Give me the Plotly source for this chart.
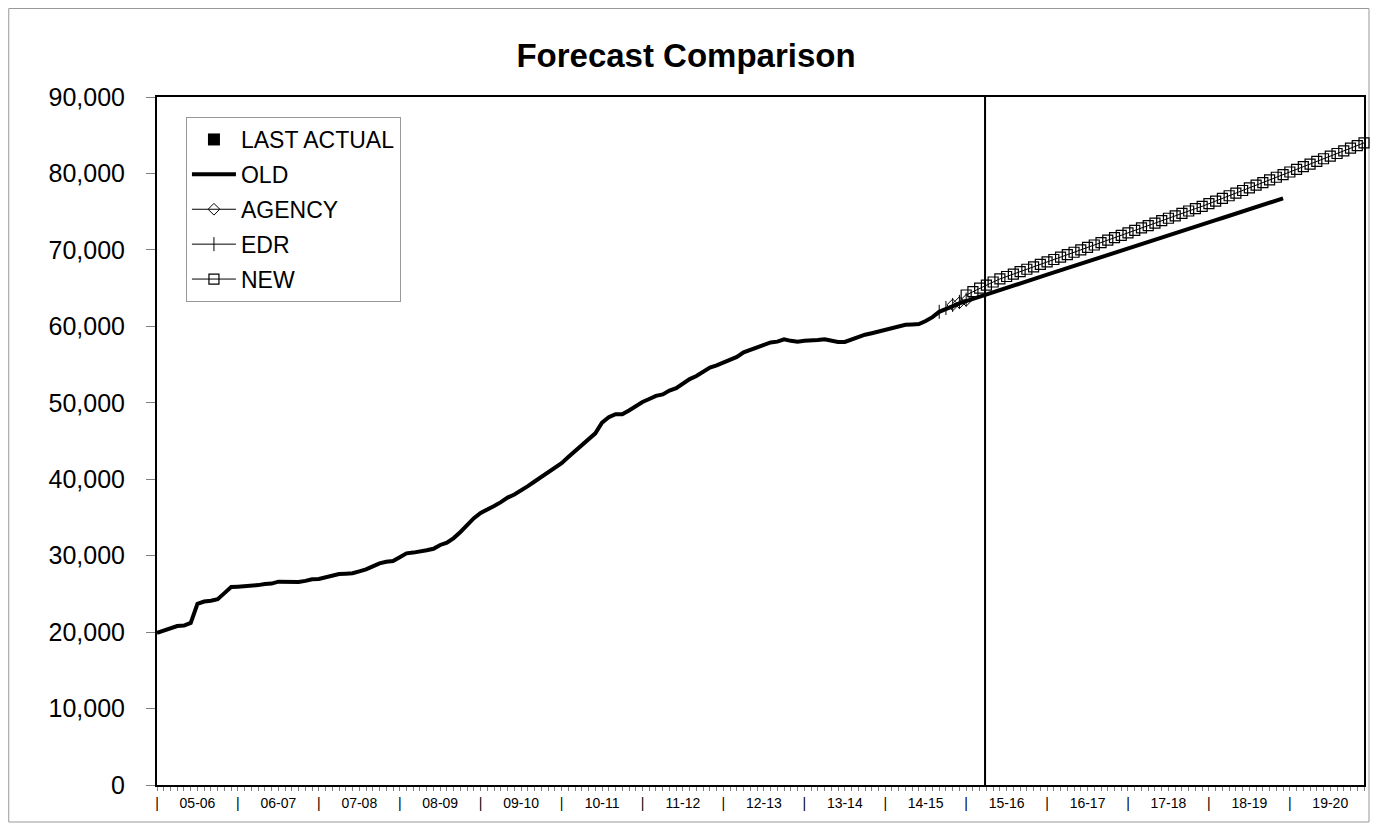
import plotly.graph_objects as go

# ---------------- data ----------------
FISCAL_YEARS = ["05-06", "06-07", "07-08", "08-09", "09-10", "10-11", "11-12", "12-13",
                "13-14", "14-15", "15-16", "16-17", "17-18", "18-19", "19-20"]
N_MONTHS = 180  # Jul 2005 .. Jun 2020

# OLD series (actuals + old forecast), month index 0..167
OLD_VALUES = [
    19900, 20200, 20450, 20800, 20850, 21200, 23700, 24000, 24100, 24300, 25100, 25900,
    25950, 26000, 26100, 26150, 26300, 26350, 26600, 26600, 26550, 26550, 26700, 26900,
    26950, 27200, 27400, 27600, 27650, 27700, 27950, 28200, 28600, 29000, 29200, 29300,
    29800, 30300, 30400, 30500, 30700, 30900, 31400, 31700, 32300, 33100, 34000, 34900,
    35600, 36000, 36500, 37000, 37600, 38000, 38500, 39100, 39700, 40300, 40900, 41500,
    42100, 42900, 43700, 44500, 45300, 46000, 47400, 48100, 48500, 48500, 49000, 49600,
    50100, 50500, 50900, 51100, 51600, 51900, 52500, 53100, 53500, 54000, 54600, 54900,
    55300, 55700, 56000, 56600, 56900, 57300, 57600, 57900, 58000, 58300, 58100, 58000,
    58100, 58100, 58200, 58300, 58100, 57950, 57950, 58300, 58600, 58900, 59100, 59300,
    59500, 59700, 60000, 60200, 60250, 60300, 60700, 61200, 61900, 62300, 62700, 63000,
    63300, 63600, 63900, 64200, 64480, 64770, 65050, 65340, 65620, 65910, 66190, 66480,
    66760, 67050, 67330, 67620, 67900, 68190, 68470, 68760, 69040, 69330, 69610, 69900,
    70180, 70470, 70750, 71040, 71320, 71610, 71890, 72180, 72460, 72750, 73030, 73320,
    73600, 73890, 74170, 74460, 74740, 75030, 75310, 75600, 75880, 76170, 76450, 76740,
]

# NEW forecast, month index 120..179
NEW_START = 120
NEW_VALUES = [
    64100, 64550, 65000, 65400, 65800, 66200, 66520, 66830, 67150, 67470, 67790, 68100,
    68420, 68740, 69060, 69370, 69690, 70010, 70330, 70640, 70960, 71280, 71600, 71910,
    72230, 72550, 72870, 73180, 73500, 73820, 74140, 74450, 74770, 75090, 75400, 75700,
    76050, 76390, 76740, 77080, 77430, 77770, 78120, 78460, 78810, 79150, 79500, 79840,
    80190, 80530, 80880, 81230, 81570, 81920, 82260, 82610, 82950, 83300, 83650, 84000,
]

# EDR and AGENCY (short, near the last actual)
EDR_MONTHS = [116, 117, 118, 119, 120]
EDR_VALUES = [61900, 62400, 62800, 63200, 63500]
AGENCY_MONTHS = [118, 119, 120]
AGENCY_VALUES = [62800, 63100, 63400]

# LAST ACTUAL marker (column reaching the top of the axis)
LAST_ACTUAL_MONTH = [122.8]
LAST_ACTUAL_VALUE = [90000]

# ---------------- figure ----------------
FONT = "Liberation Sans, Arial, sans-serif"
FIG_W, FIG_H = 1364, 815          # page body adds an 8px margin
ML, MR, MT, MB = 149, 6, 89, 38   # plot area: page x 157..1366, y 97..785
PW = FIG_W - ML - MR
PH = FIG_H - MT - MB

old_x = list(range(len(OLD_VALUES)))
new_x = list(range(NEW_START, NEW_START + len(NEW_VALUES)))

tickvals = list(range(N_MONTHS))
ticktext = []
for m in tickvals:
    if m % 12 == 0:
        ticktext.append("|")
    elif m % 12 == 6:
        ticktext.append(FISCAL_YEARS[m // 12])
    else:
        ticktext.append("")

fig = go.Figure()

fig.add_trace(go.Bar(
    x=LAST_ACTUAL_MONTH, y=LAST_ACTUAL_VALUE, width=0.3, name="LAST ACTUAL",
    marker=dict(color="black", line=dict(width=0)), legendgroup="a",
))
fig.add_trace(go.Scatter(
    x=old_x, y=OLD_VALUES, mode="lines", name="OLD",
    line=dict(color="black", width=4), legendgroup="b",
))
fig.add_trace(go.Scatter(
    x=AGENCY_MONTHS, y=AGENCY_VALUES, mode="lines+markers", name="AGENCY",
    line=dict(color="black", width=1),
    marker=dict(symbol="diamond-open", size=9, color="black", line=dict(width=1)),
    legendgroup="c",
))
fig.add_trace(go.Scatter(
    x=EDR_MONTHS, y=EDR_VALUES, mode="lines+markers", name="EDR",
    line=dict(color="black", width=1),
    marker=dict(symbol="line-ns-open", size=10, color="black", line=dict(width=1)),
    legendgroup="d",
))
fig.add_trace(go.Scatter(
    x=new_x, y=NEW_VALUES, mode="lines+markers", name="NEW",
    line=dict(color="black", width=1), cliponaxis=False,
    marker=dict(symbol="square-open", size=10, color="black", line=dict(width=1.2)),
    legendgroup="e",
))

fig.update_layout(
    width=FIG_W, height=FIG_H,
    margin=dict(l=ML, r=MR, t=MT, b=MB),
    paper_bgcolor="white", plot_bgcolor="white",
    font=dict(family=FONT, color="black"),
    title=dict(text="<b>Forecast Comparison</b>", x=678 / FIG_W, xref="container",
               xanchor="center",
               y=1 - 47 / FIG_H, yanchor="middle", yref="container",
               font=dict(size=33, family=FONT, color="black")),
    barmode="overlay",
    showlegend=True,
    legend=dict(
        x=(186 - 157) / PW, y=(785 - 117) / PH, xanchor="left", yanchor="top",
        bgcolor="white", bordercolor="#999999", borderwidth=1,
        font=dict(size=23, family=FONT, color="black"),
        traceorder="grouped", tracegroupgap=2,
        itemwidth=44,
    ),
    xaxis=dict(
        range=[0, N_MONTHS - 1],
        tickmode="array", tickvals=tickvals, ticktext=ticktext,
        ticks="outside", ticklen=4, tickcolor="#808080", tickwidth=1,
        tickangle=0,
        tickfont=dict(size=14, family=FONT, color="black"),
        showline=True, linecolor="black", linewidth=2, mirror=True,
        showgrid=False, zeroline=False,
    ),
    yaxis=dict(
        range=[0, 90000], dtick=10000, tickformat=",",
        ticks="outside", ticklen=9, tickcolor="#808080", tickwidth=1,
        ticklabelstandoff=16,
        tickfont=dict(size=25, family=FONT, color="black"),
        showline=True, linecolor="black", linewidth=2, mirror=True,
        showgrid=False, zeroline=False,
    ),
    shapes=[dict(
        type="rect", xref="paper", yref="paper",
        x0=(0.5 - ML) / PW, x1=(FIG_W - 1 - ML) / PW,
        y0=(PH + MT - (FIG_H - 1)) / PH, y1=(PH + MT - 0.5) / PH,
        line=dict(color="#999999", width=1), fillcolor="rgba(0,0,0,0)", layer="below",
    )],
)

fig.write_html("out.html")
